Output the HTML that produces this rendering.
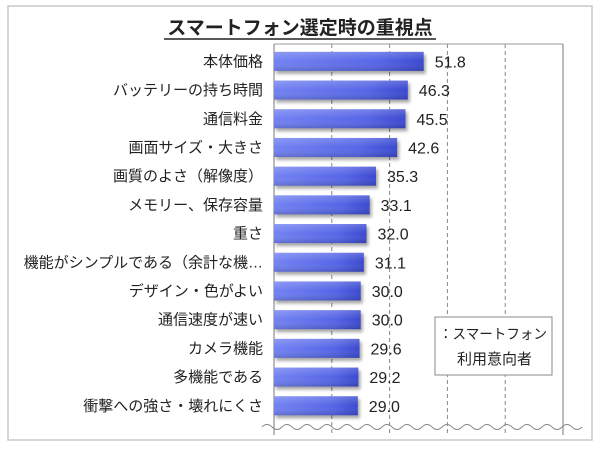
<!DOCTYPE html>
<html><head><meta charset="utf-8">
<style>
html,body{margin:0;padding:0;background:#fff;}
body{width:600px;height:450px;overflow:hidden;font-family:"Liberation Sans","Noto Sans CJK JP",sans-serif;}
</style></head>
<body>
<svg id="chart" width="600" height="450" xmlns="http://www.w3.org/2000/svg" font-family="'Liberation Sans','Noto Sans CJK JP',sans-serif">
<defs>
<linearGradient id="barg" x1="0" y1="0" x2="1" y2="0">
<stop offset="0" stop-color="#7282f2"/><stop offset="0.7" stop-color="#5565e6"/><stop offset="1" stop-color="#3a48cf"/>
</linearGradient>
<linearGradient id="barv" x1="0" y1="0" x2="0" y2="1">
<stop offset="0" stop-color="#fff" stop-opacity="0.2"/><stop offset="0.5" stop-color="#fff" stop-opacity="0"/><stop offset="1" stop-color="#000" stop-opacity="0.15"/>
</linearGradient>
<filter id="sh" x="-10%" y="-30%" width="130%" height="180%"><feGaussianBlur stdDeviation="1.5"/></filter>
</defs>
<rect x="8" y="6" width="584" height="434" fill="#fff" stroke="#c8c8c8" stroke-width="1.5"/>
<text x="300" y="34" text-anchor="middle" font-size="19" font-weight="bold" fill="#222">スマートフォン選定時の重視点</text>
<line x1="164" y1="39" x2="436" y2="39" stroke="#222" stroke-width="1.5"/>
<g id="grid"></g>
<g id="bars"></g>
<g id="labels"></g>
<g>
<rect x="435" y="317" width="117" height="58" fill="#fff" stroke="#888"/>
<text x="439" y="339" font-size="14" fill="#222" textLength="108" lengthAdjust="spacingAndGlyphs">：スマートフォン</text>
<text x="457" y="364" font-size="15" fill="#222">利用意向者</text>
</g>
</svg>
<script>
const categories = ["本体価格","バッテリーの持ち時間","通信料金","画面サイズ・大きさ","画質のよさ（解像度）","メモリー、保存容量","重さ","機能がシンプルである（余計な機…","デザイン・色がよい","通信速度が速い","カメラ機能","多機能である","衝撃への強さ・壊れにくさ"];
const values = [51.8,46.3,45.5,42.6,35.3,33.1,32.0,31.1,30.0,30.0,29.6,29.2,29.0];
const ticks = [0,20,40,60,80,100];
const NS="http://www.w3.org/2000/svg";
const X0=274,X1=563,Y0=44,Y1=425,rowTop=47,rowH=28.7,barH=19;
function xs(v){return X0+(v-0)/(100-0)*(X1-X0);}
function yc(i){return rowTop+rowH*i+rowH/2;}
function mk(tag,attrs,parent){const e=document.createElementNS(NS,tag);for(const k in attrs)e.setAttribute(k,attrs[k]);parent.appendChild(e);return e;}
const gridG=document.getElementById('grid'),barsG=document.getElementById('bars'),labelsG=document.getElementById('labels');
ticks.forEach((t,i)=>{
  const x=xs(t);
  const edge=(i==0||i==ticks.length-1);
  const l=mk('line',{x1:x,y1:Y0,x2:x,y2:Y1+10,stroke:edge?'#777':'#888'},gridG);
  if(!edge) l.setAttribute('stroke-dasharray','4,3');
  
  
});
const plotTop=mk('line',{x1:X0,y1:Y0,x2:X1,y2:Y0,stroke:'#999'},gridG);


let d='M262 '+(Y1+2);
for(let x=262;x<575;x+=20){d+=' q5 -5 10 0 q5 5 10 0';}
const wave=mk('path',{d:d,fill:'none',stroke:'#888','stroke-width':1},gridG);


categories.forEach((c,i)=>{
  const y=yc(i),w=xs(values[i])-X0;
  mk('rect',{x:X0+2,y:y-barH/2+3,width:w,height:barH,fill:'#000',opacity:0.35,filter:'url(#sh)'},barsG);
  const b=mk('rect',{x:X0,y:y-barH/2,width:w,height:barH,fill:'url(#barg)'},barsG);
  
  
  mk('rect',{x:X0,y:y-barH/2,width:w,height:barH,fill:'url(#barv)'},barsG);
  const t=mk('text',{x:263,y:y+5,'text-anchor':'end','font-size':15,fill:'#222'},labelsG);
  t.textContent=c;
  
  
  const v=mk('text',{x:X0+w+11,y:y+6,'font-size':16,fill:'#222'},labelsG);
  v.textContent=values[i].toFixed(1);
  
  
});
</script>
</body></html>
